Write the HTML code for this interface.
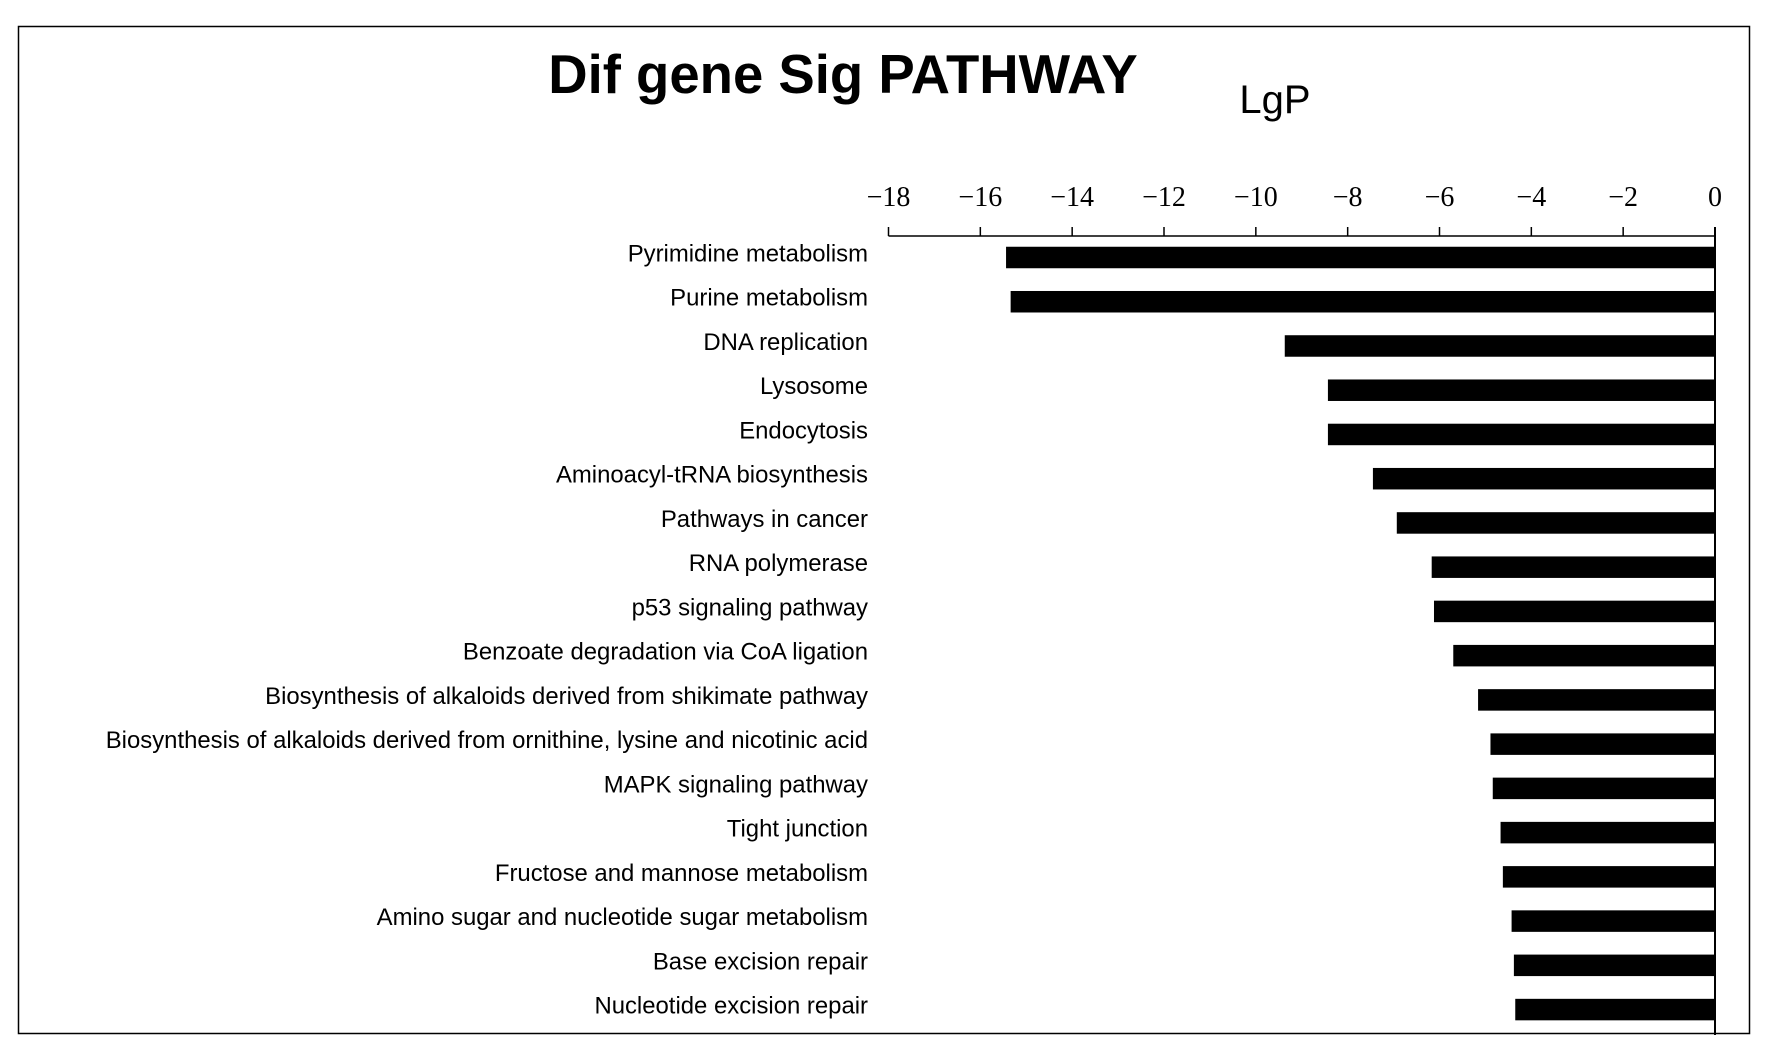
<!DOCTYPE html>
<html><head><meta charset="utf-8"><style>
body{margin:0;background:#fff}
svg{display:block}
</style></head><body>
<svg id="chart" width="1770" height="1058" xmlns="http://www.w3.org/2000/svg">
<rect x="18.5" y="26.5" width="1731" height="1007" fill="#fff" stroke="#000" stroke-width="1.5"/>
<text x="843" y="93" text-anchor="middle" font-family="Liberation Sans, sans-serif" font-weight="bold" font-size="54.5">Dif gene Sig PATHWAY</text>
<text x="1275" y="113" text-anchor="middle" font-family="Liberation Sans, sans-serif" font-size="40">LgP</text>
<g id="axis"></g>
<g id="bars"></g>
<g id="labels"></g>
</svg>
<script>
const categories = ["Pyrimidine metabolism","Purine metabolism","DNA replication","Lysosome","Endocytosis","Aminoacyl-tRNA biosynthesis","Pathways in cancer","RNA polymerase","p53 signaling pathway","Benzoate degradation via CoA ligation","Biosynthesis of alkaloids derived from shikimate pathway","Biosynthesis of alkaloids derived from ornithine, lysine and nicotinic acid","MAPK signaling pathway","Tight junction","Fructose and mannose metabolism","Amino sugar and nucleotide sugar metabolism","Base excision repair","Nucleotide excision repair"];
const values = [-15.44,-15.34,-9.37,-8.43,-8.43,-7.45,-6.93,-6.17,-6.12,-5.70,-5.16,-4.89,-4.84,-4.67,-4.62,-4.43,-4.38,-4.35];
const ticks = [-18,-16,-14,-12,-10,-8,-6,-4,-2,0];
const NS="http://www.w3.org/2000/svg";
const x0=888.5,x1=1715,xmin=-18,xmax=0;
const xs=v=>x0+(v-xmin)/(xmax-xmin)*(x1-x0);
const yTop=257.5,step=44.24,bh=21.5;
const ys=i=>yTop+i*step;
function mk(t,a,p){const e=document.createElementNS(NS,t);for(const k in a)e.setAttribute(k,a[k]);p.appendChild(e);return e;}
const ax=document.getElementById('axis'),bg=document.getElementById('bars'),lg=document.getElementById('labels');
const axl=mk('line',{x1:x0,x2:x1,y1:236,y2:236,stroke:'#000','stroke-width':1.5},ax);


ticks.forEach(t=>{
 const l=mk('line',{x1:xs(t),x2:xs(t),y1:227,y2:236,stroke:'#000','stroke-width':1.5},ax);
 
 
 const tx=mk('text',{x:xs(t),y:206,'text-anchor':'middle','font-family':'Liberation Serif, serif','font-size':28},ax);
 
 
 tx.textContent=t<0?'\u2212'+Math.abs(t):String(t);
});
values.forEach((v,i)=>{
 const r=mk('rect',{x:xs(v),y:ys(i)-bh/2,width:xs(0)-xs(v),height:bh,fill:'#000'},bg);
 
 
});
categories.forEach((c,i)=>{
 const t=mk('text',{x:868,y:ys(i)+4,'text-anchor':'end','font-family':'Liberation Sans, sans-serif','font-size':23.9},lg);
 
 
 t.textContent=c;
});
const zl=mk('line',{x1:xs(0),x2:xs(0),y1:227,y2:1035,stroke:'#000','stroke-width':2},ax);


</script>
</body></html>
